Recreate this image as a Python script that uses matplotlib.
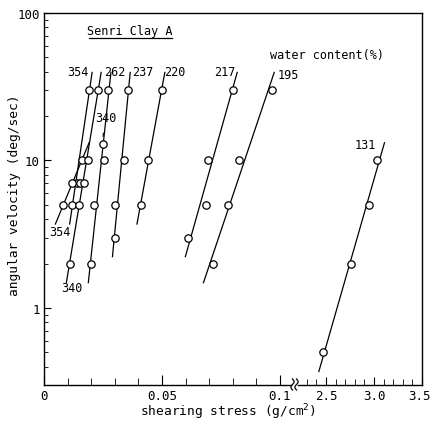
import numpy as np
import matplotlib
matplotlib.use('Agg')
import matplotlib.pyplot as plt
import matplotlib.transforms as mtransforms
from matplotlib.lines import Line2D

plt.rcParams['font.family'] = ['DejaVu Sans Mono', 'DejaVu Sans']
plt.rcParams['font.size'] = 9

# Senri Clay A: shearing stress (g/cm2) against angular velocity (deg/sec),
# one run per water content (%)
x_354a = [0.0117, 0.0139, 0.0192]
v_354a = [5, 7, 30]
x_354b = [0.0082, 0.0120, 0.0160]
v_354b = [5, 7, 10]
x_340 = [0.0110, 0.0148, 0.0153, 0.0171, 0.0185, 0.0230]
v_340 = [2, 5, 7, 7, 10, 30]
x_340_extra = [0.0250]
v_340_extra = [13]
x_262 = [0.0199, 0.0212, 0.0256, 0.0272]
v_262 = [2, 5, 10, 30]
x_237 = [0.0301, 0.0301, 0.0340, 0.0355]
v_237 = [3, 5, 10, 30]
x_220 = [0.0410, 0.0442, 0.0499]
v_220 = [5, 10, 30]
x_217 = [0.0612, 0.0685, 0.0696, 0.0802]
v_217 = [3, 5, 10, 30]
x_195 = [0.0717, 0.0781, 0.0826, 0.0967]
v_195 = [2, 5, 10, 30]
x_131 = [2.47, 2.76, 2.95, 3.03]
v_131 = [0.5, 2, 5, 10]

W, H = 431, 427
fig = plt.figure(figsize=(W / 100, H / 100), dpi=100)


def px(x0, y0, x1, y1):
    # pixel box -> figure fraction rect
    return [x0 / W, 1 - y1 / H, (x1 - x0) / W, (y1 - y0) / H]


axl = fig.add_axes(px(44, 14, 291, 386))
axr = fig.add_axes(px(298, 14, 422, 386), sharey=axl)

for ax in (axl, axr):
    ax.set_yscale('log')
    ax.set_ylim(0.3, 100)
    ax.spines['top'].set_visible(False)
    for s in ax.spines.values():
        s.set_linewidth(1.0)
    ax.tick_params(which='both', direction='in', top=False, right=False,
                   labelsize=9, pad=3)

axl.spines['right'].set_visible(False)
axr.spines['left'].set_visible(False)
axr.tick_params(axis='y', which='both', left=False, labelleft=False)

axl.set_xlim(0, 0.1047)
axl.set_xticks([0, 0.05, 0.1])
axl.set_xticklabels(['0', '0.05', '0.1'])
axl.set_xticks(np.arange(0.01, 0.1, 0.01), minor=True)
axl.tick_params(axis='x', which='major', length=7)
axl.tick_params(axis='x', which='minor', length=5)
axl.set_yticks([1, 10, 100])
axl.set_yticklabels(['1', '10', '100'])
axl.tick_params(axis='y', which='major', length=5)
axl.tick_params(axis='y', which='minor', length=3)

axr.set_xlim(2.208, 3.5)
axr.set_xticks([2.5, 3.0, 3.5])
axr.set_xticklabels(['2.5', '3.0', '3.5'])
axr.set_xticks(np.arange(2.3, 3.45, 0.1), minor=True)
axr.tick_params(axis='x', which='major', length=6)
axr.tick_params(axis='x', which='minor', length=4)
# keep the last label inside the canvas
last = axr.get_xticklabels()[-1]
last.set_transform(last.get_transform() +
                   mtransforms.ScaledTranslation(-3 / 100, 0, fig.dpi_scale_trans))


def run(ax, xs, vs):
    lv = np.log10(vs)
    d, c = np.polyfit(lv, xs, 1)
    t = np.array([lv.min() - 0.13, lv.max() + 0.12])
    ax.plot(c + d * t, 10 ** t, color='black', lw=0.9, zorder=2)
    ax.plot(xs, vs, 'o', ms=5.3, mfc='white', mec='black', mew=0.9, zorder=3)


for xs, vs in [(x_354a, v_354a), (x_354b, v_354b), (x_340, v_340),
               (x_262, v_262), (x_237, v_237), (x_220, v_220),
               (x_217, v_217), (x_195, v_195)]:
    run(axl, xs, vs)
run(axr, x_131, v_131)
axl.plot(x_340_extra, v_340_extra, 'o', ms=5.3, mfc='white', mec='black',
         mew=0.9, zorder=3)

lab = dict(fontsize=8.5, ha='center', va='center')
axl.text(0.0144, 40, '354', **lab)
axl.text(0.0300, 40, '262', **lab)
axl.text(0.0420, 40, '237', **lab)
axl.text(0.0555, 40, '220', **lab)
axl.text(0.0767, 40, '217', **lab)
axl.text(0.1034, 38, '195', **lab)
axl.text(0.0068, 3.3, '354', **lab)
axl.text(0.0119, 1.38, '340', **lab)
axl.annotate('340', xy=(x_340_extra[0], v_340_extra[0] * 1.12),
             xytext=(0.0262, 19.7), fontsize=8.5, ha='center', va='center',
             arrowprops=dict(arrowstyle='-', lw=0.8, shrinkA=5, shrinkB=0))
axr.text(2.906, 12.9, '131', **lab)

# title with underline
axl.text(0.348, 0.952, 'Senri Clay A', transform=axl.transAxes,
         ha='center', va='center', fontsize=8.5)
axl.plot([0.182, 0.518], [0.932, 0.932], transform=axl.transAxes,
         color='black', lw=0.9, clip_on=False)
fig.text(327 / W, 1 - 55 / H, 'water content(%)', ha='center', va='center',
         fontsize=8.5)

# top frame line bridging both panels
fig.add_artist(Line2D([44 / W, 422 / W], [1 - 14 / H, 1 - 14 / H],
                      color='black', lw=1.0))

# axis break marks
t = np.linspace(0, 1, 30)
for x0 in (292.5, 296.5):
    xx = (x0 + 1.6 * np.sin(2 * np.pi * t)) / W
    yy = 1 - (380 + 11 * t) / H
    fig.add_artist(Line2D(xx, yy, color='black', lw=0.9))

fig.text(228 / W, 1 - 412 / H, 'shearing stress (g/cm$^2$)',
         ha='center', va='center', fontsize=9.3)
fig.text(15 / W, 1 - 195 / H, 'angular velocity (deg/sec)', rotation=90,
         ha='center', va='center', fontsize=9.3)

fig.savefig('out.png', dpi=100)
